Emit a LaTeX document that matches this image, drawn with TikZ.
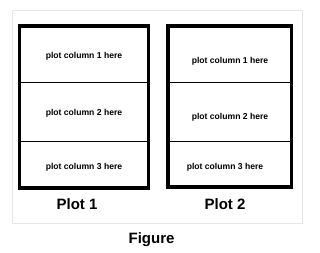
\documentclass[tikz,border=0pt]{standalone}
\usepackage{fontspec}
\setmainfont{Liberation Sans}
\begin{document}
\begin{tikzpicture}[x=1pt,y=-1pt,
  frame/.style={draw=black!10,line width=0.8pt},
  plotbox/.style={draw=black,line width=3.6pt},
  divider/.style={draw=black,line width=1.1pt},
  celltext/.style={font=\fontsize{8.6}{10}\selectfont\bfseries,inner sep=0pt},
  plotlabel/.style={font=\fontsize{15}{18}\selectfont\bfseries,inner sep=0pt}]
\useasboundingbox (0,0) rectangle (320,253);
% light frame
\draw[frame] (12.5,10) rectangle (302.5,223.5);
% plot 1
\coordinate (p1tl) at (19.5,26);
\coordinate (p1br) at (148.3,188);
\draw[divider] (19.5,82.5) coordinate (p1a) -- (148.3,82.5) coordinate (p1b);
\draw[divider] (19.5,141.5) coordinate (p1c) -- (148.3,141.5) coordinate (p1d);
\draw[plotbox] (p1tl) rectangle (p1br);
\node[celltext] (c11) at (84,56) {plot column 1 here};
\node[celltext] (c12) at (84,113) {plot column 2 here};
\node[celltext] (c13) at (84,167) {plot column 3 here};
\node[plotlabel] (l1) at (77,204) {Plot 1};
% plot 2
\coordinate (p2tl) at (168,26);
\coordinate (p2br) at (291.3,187);
\draw[divider] (168,82.5) coordinate (p2a) -- (291.3,82.5) coordinate (p2b);
\draw[divider] (168,141.5) coordinate (p2c) -- (291.3,141.5) coordinate (p2d);
\draw[plotbox] (p2tl) rectangle (p2br);
\node[celltext] (c21) at (230,61) {plot column 1 here};
\node[celltext] (c22) at (230,117) {plot column 2 here};
\node[celltext] (c23) at (225,167) {plot column 3 here};
\node[plotlabel] (l2) at (225,204) {Plot 2};
% figure label
\node[plotlabel] (fig) at (151.5,240) {Figure};
\end{tikzpicture}
\end{document}
